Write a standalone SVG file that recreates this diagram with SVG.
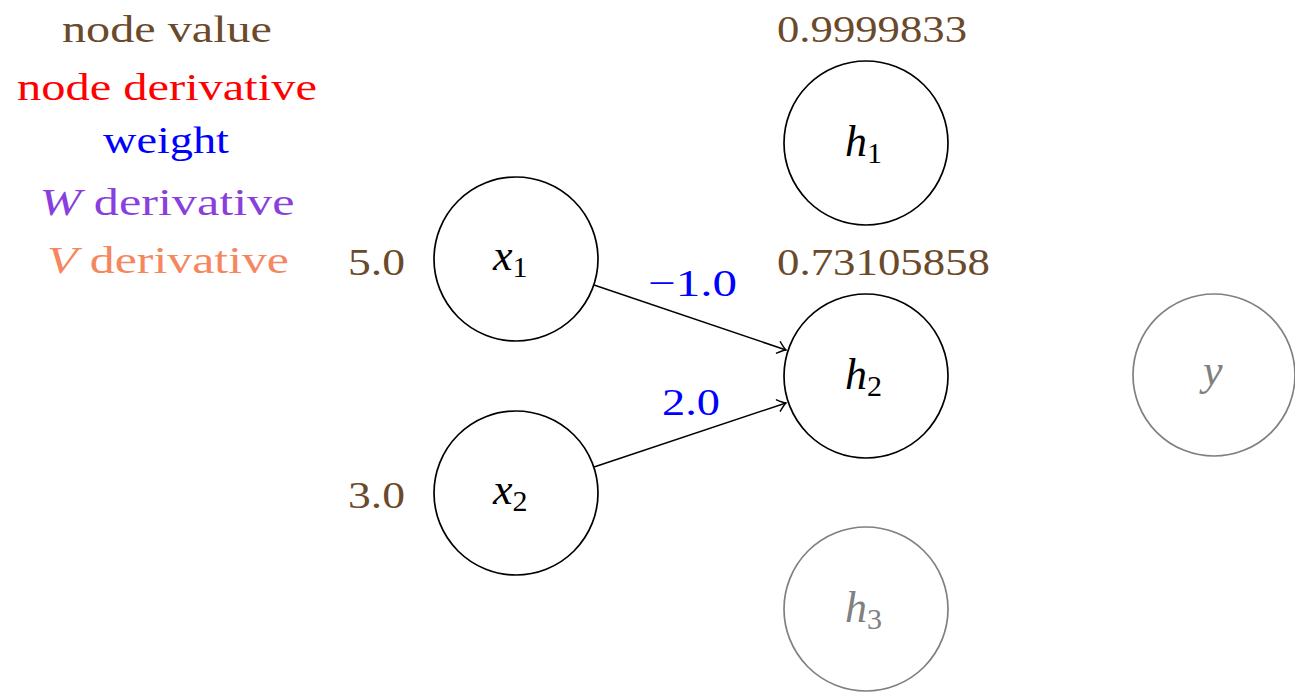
<svg xmlns="http://www.w3.org/2000/svg" width="1295" height="692" viewBox="0 0 1295 692">
<style>
text{font-family:"Liberation Serif","DejaVu Serif",serif;font-size:38px}
.val{fill:#6B4A2B}
.red{fill:#FF0000}
.blue{fill:#0000FF}
.pur{fill:#8A3FDD}
.org{fill:#F5875F}
.node{fill:none;stroke:#000;stroke-width:1.7}
.ghost{fill:none;stroke:#808080;stroke-width:1.7}
.lbl{font-style:italic;font-size:44px}
.sub{font-style:normal;font-size:30px}
.edge{stroke:#000;stroke-width:1.5;fill:none}
</style>
<defs>
<marker id="arr" markerUnits="userSpaceOnUse" markerWidth="20" markerHeight="20" viewBox="-12 -10 14 20" refX="0" refY="0" orient="auto">
<path d="M -8 -6 Q -3 -1.5 0 0 Q -3 1.5 -8 6" fill="none" stroke="#000" stroke-width="1.5" stroke-linecap="round"/>
</marker>
</defs>
<rect width="1295" height="692" fill="#fff"/>
<g id="legend" text-anchor="middle">
<text class="val" x="167" y="42" textLength="210" lengthAdjust="spacingAndGlyphs">node value</text>
<text class="red" x="167" y="100" textLength="300" lengthAdjust="spacingAndGlyphs">node derivative</text>
<text class="blue" x="166" y="153" textLength="126" lengthAdjust="spacingAndGlyphs">weight</text>
<text class="pur" x="167" y="215" textLength="255" lengthAdjust="spacingAndGlyphs"><tspan font-style="italic">W</tspan> derivative</text>
<text class="org" x="168" y="273" textLength="242" lengthAdjust="spacingAndGlyphs"><tspan font-style="italic">V</tspan> derivative</text>
</g>
<g id="connectors">
<line class="edge" x1="594" y1="285" x2="786" y2="350" marker-end="url(#arr)"/>
<line class="edge" x1="594" y1="467" x2="786" y2="403" marker-end="url(#arr)"/>
<text class="blue" x="648" y="296" textLength="89" lengthAdjust="spacingAndGlyphs">−1.0</text>
<text class="blue" x="662" y="415" textLength="58" lengthAdjust="spacingAndGlyphs">2.0</text>
</g>
<g id="x1">
<circle class="node" cx="516" cy="259" r="82"/>
<text class="val" x="348" y="275" textLength="57" lengthAdjust="spacingAndGlyphs">5.0</text>
<text class="lbl" x="493" y="270">x<tspan class="sub" dy="7">1</tspan></text>
</g>
<g id="x2">
<circle class="node" cx="516" cy="493" r="82"/>
<text class="val" x="348" y="508" textLength="57" lengthAdjust="spacingAndGlyphs">3.0</text>
<text class="lbl" x="493" y="504">x<tspan class="sub" dy="7">2</tspan></text>
</g>
<g id="h1">
<circle class="node" cx="866" cy="143" r="82"/>
<text class="val" x="777" y="42" textLength="190" lengthAdjust="spacingAndGlyphs">0.9999833</text>
<text class="lbl" x="845" y="156">h<tspan class="sub" dy="7">1</tspan></text>
</g>
<g id="h2">
<circle class="node" cx="866" cy="376" r="82"/>
<text class="val" x="777" y="275" textLength="213" lengthAdjust="spacingAndGlyphs">0.73105858</text>
<text class="lbl" x="845" y="389">h<tspan class="sub" dy="7">2</tspan></text>
</g>
<g id="h3">
<circle class="ghost" cx="866" cy="609" r="82"/>
<text class="lbl" fill="#808080" x="845" y="622">h<tspan class="sub" dy="7">3</tspan></text>
</g>
<g id="y">
<circle class="ghost" cx="1214" cy="375" r="81"/>
<text class="lbl" fill="#808080" x="1203" y="385">y</text>
</g>
</svg>
